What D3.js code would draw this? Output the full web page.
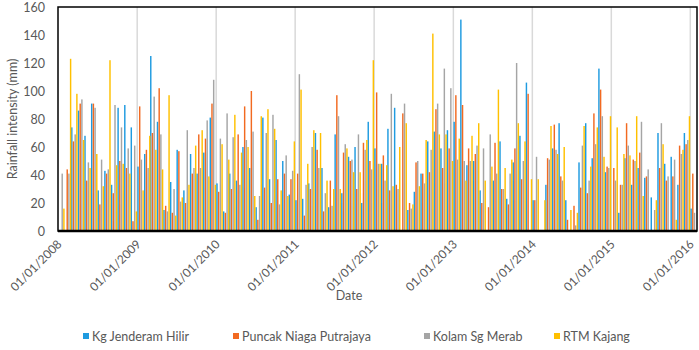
<!DOCTYPE html>
<html>
<head>
<meta charset="utf-8">
<script src="https://cdn.jsdelivr.net/npm/d3@7"></script>
<style>
  body { margin: 0; background: #fff; }
  svg text { font-family: Lato, "Open Sans", sans-serif; fill: #595959; }
</style>
</head>
<body>
<div id="chart"></div>
<script>
// station names and colours
const SERIES = ["Kg Jenderam Hilir", "Puncak Niaga Putrajaya", "Kolam Sg Merab", "RTM Kajang"];
const COLORS = ["#1f9be0", "#f26a21", "#a5a5a5", "#ffc000"];

// monthly rainfall (mm), Jan 2008 .. Jan 2016
const kgJenderam = [0,0,74,86,68,91,29,43,33,88,90,74, 46,55,125,78,15,35,58,29,55,41,56,81,
  34,14,41,36,60,45,17,81,37,65,50,26, 22,23,34,70,45,17,69,27,53,60,20,78,
  59,48,73,88,0,15,28,41,64,71,59,72, 78,151,47,50,29,0,36,64,23,49,68,106,
  22,0,33,59,77,22,0,49,77,52,116,42, 0,13,52,33,45,38,24,70,48,53,33,70, 16];
const puncakNiaga = [0,44,64,91,36,91,19,41,27,50,45,7, 89,58,70,102,18,13,57,20,41,69,66,91,
  28,13,30,69,89,100,8,31,20,37,41,37, 41,11,30,58,14,36,97,56,50,30,63,50,
  99,54,29,33,84,20,49,41,42,87,45,59, 97,90,59,55,20,17,63,30,19,59,37,98,
  22,0,52,76,39,8,18,31,27,84,101,46, 45,33,77,51,56,39,0,45,36,39,61,62, 41];
const kolamSg = [41,41,69,94,49,88,51,44,90,74,59,61, 51,45,96,69,14,30,21,72,45,45,79,108,
  66,84,67,33,65,71,25,70,83,19,54,43, 112,33,60,45,27,18,82,62,51,69,58,44,
  48,36,98,30,91,16,50,34,58,91,116,102, 51,50,50,61,59,69,41,30,41,120,50,0,
  53,0,51,58,36,0,4,61,36,62,82,45, 36,33,61,50,78,44,15,77,39,51,55,65, 13];
const rtmKajang = [16,123,98,65,45,55,32,122,47,48,41,14, 29,68,58,44,97,11,24,33,61,72,39,33,
  62,51,83,56,60,25,82,87,73,29,25,64, 101,48,72,70,36,30,30,59,42,42,65,122,
  48,47,32,60,77,19,32,65,141,69,69,50, 66,36,68,77,36,46,101,45,51,77,64,37,
  37,22,75,55,60,15,13,75,46,74,53,82, 74,55,54,82,25,0,22,62,0,8,58,82, 0];

const VALUES = [kgJenderam, puncakNiaga, kolamSg, rtmKajang];
const Y_TICKS = [0, 20, 40, 60, 80, 100, 120, 140, 160];

const W = 699, H = 350;
const MARGIN = {top: 7, right: 2, bottom: 119, left: 58};
const innerW = W - MARGIN.left - MARGIN.right;
const innerH = H - MARGIN.top - MARGIN.bottom;

const months = d3.timeMonth.range(new Date(2008, 0, 1), new Date(2016, 1, 1));

const svg = d3.select("#chart").append("svg")
    .attr("width", W)
    .attr("height", H);

const g = svg.append("g")
    .attr("transform", `translate(${MARGIN.left},${MARGIN.top})`);

const x = d3.scaleTime()
    .domain([new Date(2008, 0, 1), new Date(2016, 1, 1)])
    .range([0, innerW]);

const monthW = x(new Date(2008, 1, 1)) - x(new Date(2008, 0, 1));

const sub = d3.scaleBand()
    .domain(d3.range(SERIES.length))
    .range([0, monthW])
    .paddingInner(0.15)
    .paddingOuter(0.05);

const y = d3.scaleLinear()
    .domain([0, 160])
    .range([innerH, 0]);

const years = d3.timeYear.range(new Date(2008, 0, 1), new Date(2016, 0, 2));

// vertical gridlines at each year
g.append("g")
    .selectAll("line")
    .data(years.slice(1))
    .join("line")
        .attr("x1", d => x(d)).attr("x2", d => x(d))
        .attr("y1", 0).attr("y2", innerH)
        .attr("stroke", "#d9d9d9")
        .attr("stroke-width", 1.5);

// bars
VALUES.forEach((vals, s) => {
    g.append("g")
        .attr("fill", COLORS[s])
        .selectAll("rect")
        .data(vals)
        .join("rect")
            .attr("x", (d, i) => x(months[i]) + sub(s))
            .attr("width", sub.bandwidth())
            .attr("y", d => y(d))
            .attr("height", d => innerH - y(d));
});

// frame round the plot area
g.append("rect")
    .attr("width", innerW)
    .attr("height", innerH)
    .attr("fill", "none")
    .attr("stroke", "#000")
    .attr("stroke-width", 1.5);
g.append("line")
    .attr("x1", 0).attr("x2", innerW)
    .attr("y1", innerH).attr("y2", innerH)
    .attr("stroke", "#000")
    .attr("stroke-width", 2.5);

// y axis labels
const yAxis = g.append("g")
    .call(d3.axisLeft(y).tickValues(Y_TICKS).tickSize(0).tickPadding(13));
yAxis.select(".domain").remove();
yAxis.selectAll("text").attr("font-size", 12.5).style("fill", "#595959");

// x axis labels, rotated
const xAxis = g.append("g")
    .attr("transform", `translate(0,${innerH})`)
    .call(d3.axisBottom(x).tickValues(years).tickFormat(d3.timeFormat("%d/%m/%Y")).tickSize(0));
xAxis.select(".domain").remove();
xAxis.selectAll("text")
    .attr("font-size", 12)
    .style("fill", "#595959")
    .attr("text-anchor", "end")
    .attr("y", 0)
    .attr("transform", "translate(1,11) rotate(-45)")
    .attr("dy", "0.35em");

// axis titles
svg.append("text")
    .attr("transform", `translate(17,${MARGIN.top + innerH / 2}) rotate(-90)`)
    .attr("text-anchor", "middle")
    .attr("font-size", 12.5)
    .text("Rainfall intensity (mm)");

svg.append("text")
    .attr("x", 349).attr("y", 300)
    .attr("text-anchor", "middle")
    .attr("font-size", 12.5)
    .text("Date");

// legend
const legendX = [83, 233, 424, 554];
const legend = svg.append("g")
    .selectAll("g")
    .data(SERIES)
    .join("g")
        .attr("transform", (d, i) => `translate(${legendX[i]},337)`);
legend.append("rect")
    .attr("x", 0).attr("y", -4)
    .attr("width", 6).attr("height", 6)
    .attr("fill", (d, i) => COLORS[i]);
legend.append("text")
    .attr("x", 9).attr("y", 0)
    .attr("dy", "0.35em")
    .attr("font-size", 12.5)
    .text(d => d);
</script>
</body>
</html>
